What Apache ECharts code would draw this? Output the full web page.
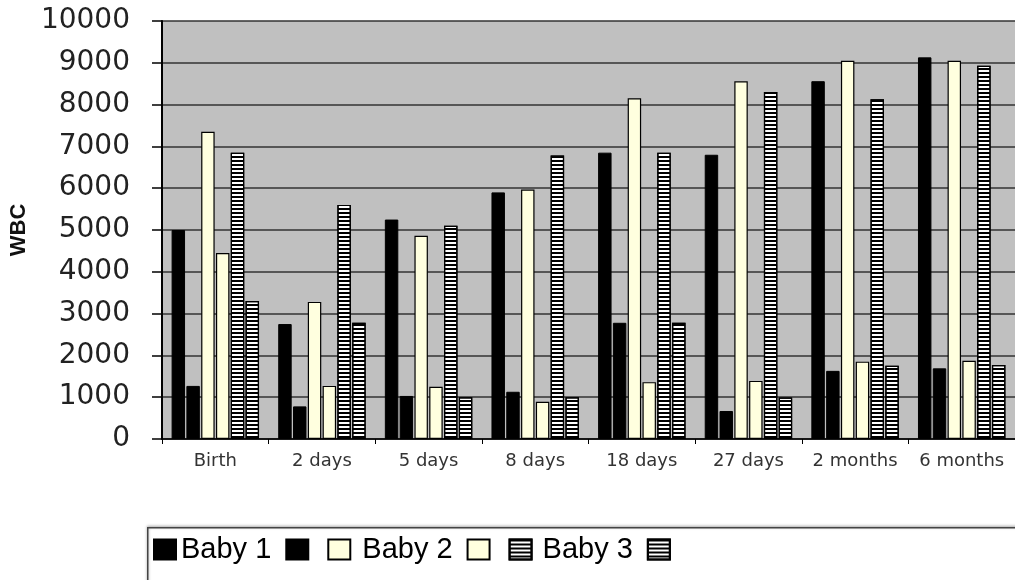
<!DOCTYPE html>
<html>
<head>
<meta charset="utf-8">
<script src="https://cdn.jsdelivr.net/npm/echarts@6/dist/echarts.min.js"></script>
<style>
html,body{margin:0;padding:0;background:#fff;}
#main{width:1015px;height:580px;}
</style>
</head>
<body>
<div id="main"></div>
<script>
var categories = ['Birth', '2 days', '5 days', '8 days', '18 days', '27 days', '2 months', '6 months'];
var baby1  = [5000, 2750, 5250, 5900, 6850, 6800, 8560, 9130];
var baby1b = [1270, 780, 1030, 1130, 2780, 670, 1630, 1690];
var baby2  = [7350, 3280, 4860, 5970, 8150, 8560, 9050, 9050];
var baby2b = [4450, 1270, 1250, 890, 1360, 1390, 1850, 1870];
var baby3  = [6850, 5600, 5100, 6780, 6850, 8300, 8130, 8930];
var baby3b = [3300, 2780, 1000, 1000, 2780, 990, 1750, 1770];
var seriesNames = ['Baby 1', '\u200b', 'Baby 2', '\u200b\u200b', 'Baby 3', '\u200b\u200b\u200b'];
var yTicks = [0, 1000, 2000, 3000, 4000, 5000, 6000, 7000, 8000, 9000, 10000];

var stripe = {
  symbol: 'rect', symbolSize: 1, dashArrayX: [1, 0], dashArrayY: [2, 2],
  rotation: 0, color: '#000'
};
var styles = [
  {color: '#000', borderColor: '#000', borderWidth: 1},
  {color: '#000', borderColor: '#000', borderWidth: 1},
  {color: '#ffffdf', borderColor: '#000', borderWidth: 1.2},
  {color: '#ffffdf', borderColor: '#000', borderWidth: 1.2},
  {color: '#ffffff', borderColor: '#000', borderWidth: 1.2, decal: stripe},
  {color: '#ffffff', borderColor: '#000', borderWidth: 1.2, decal: stripe}
];
var values = [baby1, baby1b, baby2, baby2b, baby3, baby3b];
var textPad = [0, 0, 7, 0, 6, 0];

var chart = echarts.init(document.getElementById('main'), null, {renderer: 'canvas'});
var series = values.map(function (v, i) {
  return {
    name: seriesNames[i], type: 'bar', data: v,
    barGap: '10%', barCategoryGap: '18%',
    itemStyle: styles[i],
    emphasis: {disabled: true}
  };
});

chart.setOption({
  animation: false,
  backgroundColor: '#fff',
  grid: {left: 162, top: 21, width: 857, bottom: 141, show: true, backgroundColor: '#c0c0c0', borderWidth: 0},
  xAxis: {
    type: 'category', data: categories,
    axisLine: {lineStyle: {color: '#000', width: 1.5}},
    axisTick: {show: true, length: 5, lineStyle: {color: '#000'}},
    axisLabel: {fontFamily: 'DejaVu Sans', fontSize: 18, color: '#333', margin: 13, interval: 0}
  },
  yAxis: {
    type: 'value', min: 0, max: 10000, interval: 1000,
    name: 'WBC', nameLocation: 'middle', nameRotate: 90, nameGap: 120,
    nameTextStyle: {fontFamily: 'Liberation Sans', fontWeight: 'bold', fontSize: 22, color: '#111'},
    axisLine: {show: true, lineStyle: {color: '#000', width: 2}},
    axisTick: {show: true, length: 10, lineStyle: {color: '#000', width: 1.5}},
    axisLabel: {fontFamily: 'DejaVu Sans', fontSize: 28, color: '#222', margin: 32,
      formatter: function (v) { return yTicks.indexOf(v) >= 0 ? String(v) : ''; }},
    splitLine: {lineStyle: {color: '#333', width: 1.6}}
  },
  legend: {
    left: 153, top: 535, padding: 0,
    itemWidth: 22, itemHeight: 20, itemGap: 14, icon: 'rect',
    data: seriesNames.map(function (n, i) {
      return {name: n, icon: 'rect', textStyle: {padding: [0, 0, 0, textPad[i]]}};
    }),
    textStyle: {fontFamily: 'Liberation Sans', fontSize: 29, color: '#000'},
    selectedMode: false
  },
  graphic: [{
    type: 'rect', left: 147, top: 527, z: -1,
    shape: {width: 900, height: 80},
    style: {fill: '#fff', stroke: '#444', lineWidth: 1.5, shadowColor: 'rgba(0,0,0,0.35)', shadowBlur: 3, shadowOffsetY: -1}
  }],
  series: series
});
</script>
</body>
</html>
